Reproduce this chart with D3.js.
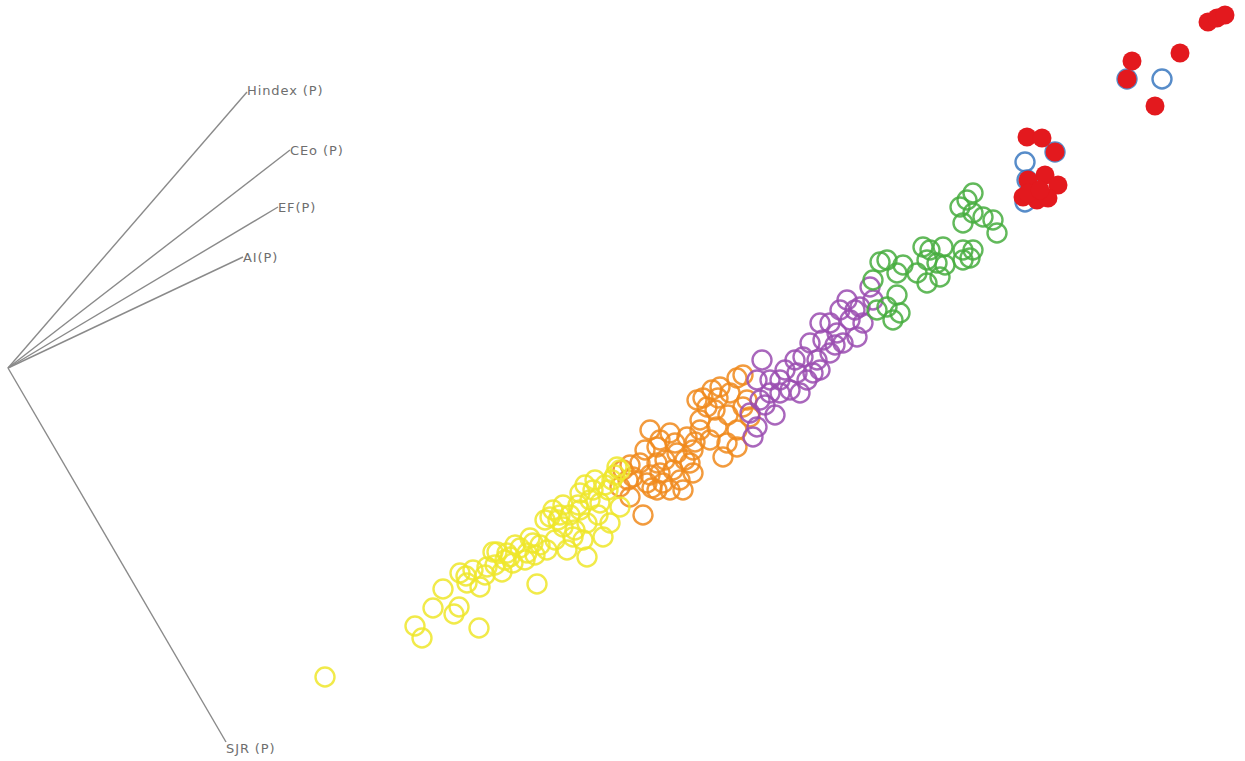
<!DOCTYPE html>
<html>
<head>
<meta charset="utf-8">
<script src="https://cdn.jsdelivr.net/npm/d3@7"></script>
<style>
  html, body { margin: 0; padding: 0; background: #fff; }
  svg { display: block; }
</style>
</head>
<body>
<svg id="chart" width="1245" height="761"></svg>
<script>
// Biplot loadings: origin and arrow tips (score units)
const loadingOrigin = [0.8, 36.8];
const loadingNames = ["Hindex (P)", "CEo (P)", "EF(P)", "AI(P)", "SJR (P)"];
const loadingTips = [[24.7, 9.2], [29.0, 15.0], [27.8, 20.7], [24.3, 25.7], [22.6, 74.2]];
const labelDy = [-0.2, 0.0, 0.0, 0.0, 0.6];

// Scores per group [PC1-like, PC2-like] in score units
const yellowPts = [
[32.5,67.7],[41.5,62.6],[42.2,63.8],[47.9,62.8],[43.3,60.8],[44.3,58.9],[45.9,60.7],[45.4,61.4],
[46.6,57.6],[48.0,58.7],[46.0,57.3],[47.3,57.0],[48.7,56.7],[46.7,58.3],[49.3,55.2],[49.7,55.2],
[50.2,57.2],[50.7,55.3],[51.0,55.7],[51.3,56.3],[52.7,55.3],[53.3,54.3],[53.7,58.4],[54.7,55.0],
[55.0,51.7],[55.3,51.0],[56.3,52.7],[56.7,55.0],[57.3,53.7],[58.0,49.3],[58.3,54.0],[58.7,55.7],
[58.7,52.3],[59.3,49.0],[60.0,50.3],[60.3,53.7],[61.0,52.3],[61.7,46.7],[62.0,50.7],[52.0,54.8],
[54.0,54.5],[52.5,56.0],[54.5,52.0],[55.8,52.0],[57.0,51.5],[57.8,50.5],[59.0,50.0],[59.8,51.5],
[60.8,49.0],[61.2,48.0],[58.5,48.5],[57.5,53.0],[55.5,54.0],[53.0,53.8],[50.5,56.0],[49.5,56.5],
[48.5,57.5],[61.5,47.5],[62.0,47.0],[56.3,50.5],[58.0,51.0],[59.5,48.0],[60.5,48.5],[56.0,51.5],
[53.5,55.5],[51.5,54.5]
];
const orangePts = [
[70.3,39.8],[72.0,38.7],[74.3,37.5],[73.7,37.8],[71.2,39.0],[69.7,40.0],[73.0,39.3],[74.7,40.0],
[75.0,41.7],[73.7,43.0],[72.3,45.7],[71.0,44.0],[70.0,42.0],[71.7,42.7],[65.0,43.0],[67.0,43.3],
[68.7,43.7],[65.7,44.7],[67.7,45.3],[69.3,45.0],[64.0,46.3],[65.7,46.3],[67.3,47.0],[69.0,46.3],
[63.3,47.7],[64.7,48.3],[66.3,48.3],[68.0,48.0],[69.3,47.3],[62.3,47.0],[62.0,48.7],[63.0,49.7],
[64.3,51.5],[65.7,49.0],[67.0,49.0],[73.7,44.7],[74.3,40.7],[70.7,40.7],[72.7,44.3],[66.5,46.0],
[65.0,47.5],[68.3,49.0],[70.0,43.0],[71.5,41.0],[63.0,46.5],[66.0,44.0],[64.5,45.0],[66.0,47.3],
[67.5,44.3],[68.5,46.0],[62.8,48.0],[65.2,48.8],[69.5,44.2],[71.8,39.8],[72.8,41.5]
];
const purplePts = [
[76.2,36.0],[75.7,38.0],[77.0,39.3],[76.0,40.0],[75.0,41.3],[75.7,42.7],[75.3,43.7],[78.0,38.0],
[79.7,37.3],[79.0,39.0],[80.3,35.7],[81.0,34.3],[81.7,36.0],[82.3,34.0],[83.0,32.3],[83.7,33.3],
[83.0,35.3],[84.3,34.3],[85.0,32.0],[84.7,30.0],[86.0,30.7],[86.3,32.3],[85.7,33.7],[80.7,38.0],
[78.0,39.3],[80.0,39.3],[82.0,37.0],[87.0,28.7],[87.3,30.0],[82.0,32.3],[81.3,37.3],[77.0,38.0],
[78.5,37.0],[79.5,36.0],[84.0,31.0],[85.5,31.0],[83.5,34.5],[76.5,40.5],[77.5,41.5]
];
const greenPts = [
[87.3,28.0],[89.7,29.5],[90.0,31.3],[89.3,32.0],[88.7,30.7],[88.7,26.0],[89.7,27.3],[91.7,27.3],
[92.7,26.0],[93.7,26.3],[92.7,28.3],[94.0,27.7],[94.3,24.7],[92.3,24.7],[96.3,25.0],[97.3,25.0],
[96.3,26.0],[97.0,25.8],[96.3,22.3],[97.3,21.3],[98.3,21.7],[99.3,22.0],[99.7,23.3],[96.7,20.0],
[97.3,19.3],[96.0,20.7],[88.0,26.2],[90.3,26.5],[93.0,25.0],[94.5,26.5],[87.7,31.0]
];
const bluePts = [[112.7,7.9],[116.2,7.9],[102.5,16.2],[102.7,18.0],[102.5,20.2],[105.5,15.2]];
const redPts = [
[113.2,6.1],[118.0,5.3],[115.5,10.6],[112.7,7.9],[120.8,2.2],[121.7,1.8],[122.5,1.5],
[102.7,13.7],[104.2,13.8],[105.5,15.2],[104.5,17.5],[105.8,18.5],[102.8,18.0],[102.3,19.7],
[103.7,20.0],[104.8,19.8],[102.8,19.3],[104.0,19.0]
];

const W = 1245, H = 761;
const svg = d3.select("#chart");
const x = d3.scaleLinear().domain([0, 124.5]).range([0, W]);
const y = d3.scaleLinear().domain([0, 76.1]).range([0, H]);

// loading lines
const gL = svg.append("g");
loadingTips.forEach((t, i) => {
  gL.append("line")
    .attr("x1", x(loadingOrigin[0])).attr("y1", y(loadingOrigin[1]))
    .attr("x2", x(t[0])).attr("y2", y(t[1]))
    .attr("stroke", "#8a8a8a").attr("stroke-width", 1.4);
  gL.append("text")
    .attr("x", x(t[0])).attr("y", y(t[1] + labelDy[i]) + 4.5)
    .attr("font-family", "DejaVu Sans, sans-serif")
    .attr("font-size", 13)
    .attr("letter-spacing", 0.9)
    .attr("fill", "#6e6e6e")
    .text(loadingNames[i]);
});

const R = 9.5;
function rings(pts, color) {
  svg.append("g").selectAll("circle").data(pts).join("circle")
    .attr("cx", d => x(d[0])).attr("cy", d => y(d[1])).attr("r", R)
    .attr("fill", "none").attr("stroke", color).attr("stroke-width", 2.4)
    .attr("stroke-opacity", 0.85);
}
rings(orangePts, "#f08a1c");
rings(purplePts, "#9a4cb0");
rings(greenPts, "#46ad3e");
rings(yellowPts, "#efe62a");
rings(bluePts, "#3a78c0");
svg.append("g").selectAll("circle").data(redPts).join("circle")
  .attr("cx", d => x(d[0])).attr("cy", d => y(d[1])).attr("r", 9.5)
  .attr("fill", "#e3191e");
</script>
</body>
</html>
